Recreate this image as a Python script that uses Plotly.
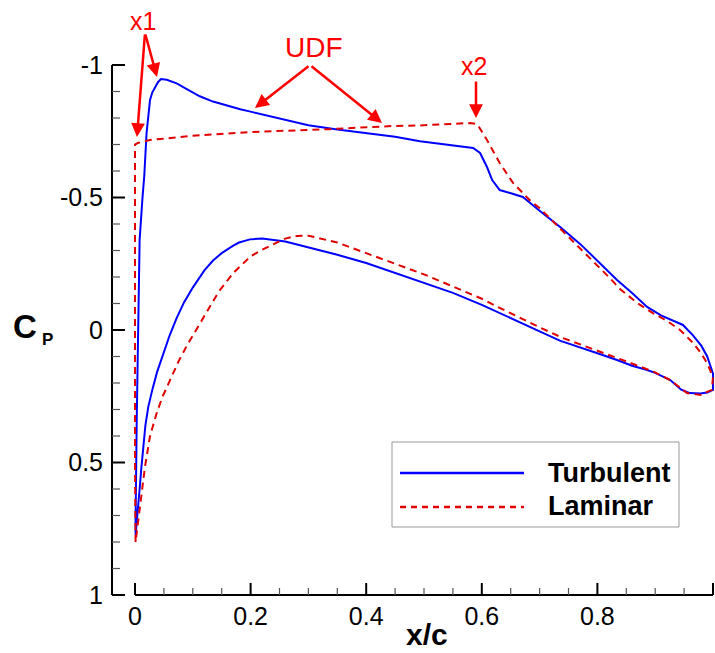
import plotly.graph_objects as go

# ---------------- data ----------------
turb_x = [0.001, 0.001, 0.003, 0.005, 0.008, 0.013, 0.016, 0.020, 0.026, 0.030, 0.035, 0.040,
          0.045, 0.055, 0.072, 0.09, 0.112, 0.135, 0.159, 0.182, 0.2, 0.25, 0.3, 0.35, 0.4,
          0.45, 0.493, 0.55, 0.585, 0.597, 0.609, 0.618, 0.631, 0.649, 0.671, 0.70, 0.735,
          0.77, 0.80, 0.834, 0.86, 0.886, 0.91, 0.93, 0.948, 0.965, 0.98, 0.99, 1.0,
          1.0, 0.99, 0.978, 0.96, 0.945, 0.926, 0.9, 0.886, 0.86, 0.834, 0.80, 0.782, 0.76,
          0.735, 0.70, 0.65, 0.6, 0.55, 0.5, 0.45, 0.4, 0.35, 0.3, 0.26, 0.22, 0.199, 0.18,
          0.17, 0.15, 0.135, 0.12, 0.1, 0.085, 0.072, 0.06, 0.05, 0.038, 0.030, 0.023, 0.018,
          0.014, 0.011, 0.008, 0.005, 0.002, 0.001]
turb_cp = [0.773, 0.717, 0.34, 0.0, -0.34, -0.5, -0.58, -0.743, -0.868, -0.897, -0.917, -0.936,
           -0.947, -0.944, -0.931, -0.91, -0.882, -0.862, -0.846, -0.833, -0.824, -0.798,
           -0.773, -0.757, -0.743, -0.729, -0.712, -0.697, -0.687, -0.668, -0.615, -0.566,
           -0.528, -0.517, -0.502, -0.45, -0.39, -0.325, -0.262, -0.189, -0.14, -0.087, -0.055,
           -0.035, -0.019, 0.019, 0.06, 0.10, 0.165,
           0.226, 0.236, 0.240, 0.238, 0.225, 0.189, 0.162, 0.151, 0.135, 0.113, 0.088, 0.075,
           0.06, 0.04, 0.005, -0.045, -0.095, -0.14, -0.178, -0.216, -0.253, -0.284, -0.313,
           -0.334, -0.345, -0.342, -0.33, -0.318, -0.29, -0.262, -0.225, -0.16, -0.105, -0.045,
           0.02, 0.08, 0.16, 0.225, 0.29, 0.36, 0.44, 0.52, 0.60, 0.68, 0.75, 0.773]

lam_x = [0.001, 0.0, 0.0, 0.005, 0.026, 0.1, 0.199, 0.337, 0.446, 0.493, 0.58, 0.592,
         0.609, 0.631, 0.654, 0.666, 0.683, 0.70, 0.735, 0.77, 0.80, 0.822, 0.839, 0.87,
         0.896, 0.92, 0.943, 0.966, 0.98, 0.99, 1.0,
         0.998, 0.978, 0.955, 0.926, 0.9, 0.874, 0.84, 0.793, 0.74, 0.70, 0.65, 0.625, 0.6,
         0.55, 0.5, 0.45, 0.4, 0.35, 0.3, 0.28, 0.26, 0.24, 0.22, 0.2, 0.17, 0.145, 0.124,
         0.105, 0.09, 0.075, 0.061, 0.048, 0.038, 0.026, 0.017, 0.009, 0.003, 0.001]
lam_cp = [0.80, 0.5, -0.70, -0.706, -0.717, -0.733, -0.747, -0.758, -0.77, -0.772, -0.781,
          -0.777, -0.717, -0.63, -0.555, -0.528, -0.49, -0.46, -0.385, -0.31, -0.245, -0.195,
          -0.155, -0.10, -0.064, -0.035, 0.0, 0.05, 0.09, 0.126, 0.177,
          0.226, 0.245, 0.238, 0.189, 0.16, 0.138, 0.11, 0.072, 0.03, -0.01, -0.062, -0.09,
          -0.118, -0.165, -0.21, -0.25, -0.29, -0.33, -0.356, -0.355, -0.345, -0.325, -0.303,
          -0.278, -0.215, -0.145, -0.068, 0.0, 0.058, 0.12, 0.185, 0.25, 0.31, 0.40, 0.52,
          0.65, 0.755, 0.80]

series_names = ["Turbulent", "Laminar"]
x_tickvals = [0, 0.2, 0.4, 0.6, 0.8, 1]
x_ticktext = ["0", "0.2", "0.4", "0.6", "0.8", "1"]
x_minor = [0.05, 0.1, 0.15, 0.25, 0.3, 0.35, 0.45, 0.5, 0.55, 0.65, 0.7, 0.75, 0.85, 0.9, 0.95]
y_tickvals = [-1, -0.5, 0, 0.5, 1]
y_ticktext = ["-1", "-0.5", "0", "0.5", "1"]
y_minor = [-0.9, -0.8, -0.7, -0.6, -0.4, -0.3, -0.2, -0.1, 0.1, 0.2, 0.3, 0.4,
           0.6, 0.7, 0.8, 0.9]

# ---------------- layout helpers ----------------
W, H = 715, 653
L, R, T, B = 112, 0, 0, 58
PW, PH = W - L - R, H - T - B
X_PER = 578.0   # px per x unit
Y_PER = 265.0   # px per Cp unit

X0 = -23.0 / X_PER
X1 = 1.0 + 2.0 / X_PER
YTOP = -1.0 - 65.0 / Y_PER
YBOT = 1.0


def pxx(px):
    return (px - L) / PW


def pxy(py):
    return (H - B - py) / PH


def xp(v):          # x data value -> paper
    return (v - X0) / (X1 - X0)


def yp(v):          # Cp value -> paper (reversed axis)
    return (v - YBOT) / (YTOP - YBOT)


FONT = "Liberation Sans, Arial, Helvetica, sans-serif"
BLUE = "#0000ff"
DRED = "#e00000"
RED = "#ff0000"
MINOR_COL = "#555555"

fig = go.Figure()
fig.add_trace(go.Scatter(x=turb_x, y=turb_cp, mode="lines", name=series_names[0],
                         line=dict(color=BLUE, width=2), showlegend=False))
fig.add_trace(go.Scatter(x=lam_x, y=lam_cp, mode="lines", name=series_names[1],
                         line=dict(color=DRED, width=2, dash="7px,5px"), showlegend=False))


def pline(xa, ya, xb, yb, color, width, dash=None):
    ln = dict(color=color, width=width)
    if dash:
        ln["dash"] = dash
    return dict(type="line", xref="paper", yref="paper", x0=xa, y0=ya, x1=xb, y1=yb,
                line=ln, layer="above")


shapes = [
    pline(0, yp(-1), 0, yp(1), "black", 2),          # y axis line (detached)
    pline(xp(0), 0, xp(1), 0, "black", 2),           # x axis line
]
for v in y_tickvals:
    shapes.append(pline(0, yp(v), 13.0 / PW, yp(v), "black", 2))
for v in y_minor:
    shapes.append(pline(0, yp(v), 8.0 / PW, yp(v), MINOR_COL, 1.2))
for v in x_tickvals:
    shapes.append(pline(xp(v), 0, xp(v), 12.0 / PH, "black", 2))
for v in x_minor:
    shapes.append(pline(xp(v), 0, xp(v), 7.0 / PH, MINOR_COL, 1.2))

# legend
shapes += [
    dict(type="rect", xref="paper", yref="paper", x0=pxx(392), x1=pxx(679),
         y0=pxy(527), y1=pxy(442), line=dict(color="#999999", width=1),
         fillcolor="white", layer="above"),
    pline(pxx(400), pxy(473), pxx(524), pxy(473), BLUE, 2.5),
    pline(pxx(400), pxy(507), pxx(524), pxy(507), DRED, 2.5, "6px,5px"),
]

annotations = [
    dict(text="<b>Turbulent</b>", x=pxx(546), y=pxy(473), xanchor="left", yanchor="middle",
         font=dict(family=FONT, size=27, color="black")),
    dict(text="<b>Laminar</b>", x=pxx(546), y=pxy(506), xanchor="left", yanchor="middle",
         font=dict(family=FONT, size=27, color="black")),
    dict(text="<b>x/c</b>", x=pxx(427), y=pxy(634), xanchor="center", yanchor="middle",
         font=dict(family=FONT, size=30, color="black")),
    dict(text="<b>C</b>", x=pxx(25), y=pxy(326), xanchor="center", yanchor="middle",
         font=dict(family=FONT, size=33, color="black")),
    dict(text="<b>P</b>", x=pxx(47.5), y=pxy(339), xanchor="center", yanchor="middle",
         font=dict(family=FONT, size=17, color="black")),
    dict(text="x1", x=pxx(142.5), y=pxy(21), xanchor="center", yanchor="middle",
         font=dict(family=FONT, size=25, color=RED)),
    dict(text="UDF", x=pxx(314), y=pxy(47), xanchor="center", yanchor="middle",
         font=dict(family=FONT, size=28, color=RED)),
    dict(text="x2", x=pxx(474), y=pxy(66), xanchor="center", yanchor="middle",
         font=dict(family=FONT, size=25, color=RED)),
]

arrows = [((145, 33), (137, 137)), ((145, 33), (157, 77)),
          ((310, 65), (255, 108)), ((310, 65), (382, 123)),
          ((476, 80), (476, 118))]
for (tx, ty), (hx, hy) in arrows:
    annotations.append(dict(text="", x=pxx(hx), y=pxy(hy), ax=tx - hx, ay=ty - hy,
                            axref="pixel", ayref="pixel", showarrow=True, arrowhead=2,
                            arrowsize=1.1, arrowwidth=2.5, arrowcolor=RED, standoff=0))

for a in annotations:
    a.setdefault("xref", "paper")
    a.setdefault("yref", "paper")
    a.setdefault("showarrow", False)

fig.update_layout(
    width=W, height=H,
    margin=dict(l=L, r=R, t=T, b=B, pad=0),
    paper_bgcolor="white", plot_bgcolor="white",
    font=dict(family=FONT, size=25, color="black"),
    shapes=shapes, annotations=annotations, showlegend=False,
    xaxis=dict(range=[X0, X1], autorange=False, showgrid=False, zeroline=False,
               showline=False, tickmode="array", tickvals=x_tickvals, ticktext=x_ticktext,
               ticks="", tickfont=dict(family=FONT, size=25, color="black"),
               ticklabelstandoff=4, automargin=False),
    yaxis=dict(range=[YBOT, YTOP], autorange=False, showgrid=False, zeroline=False,
               showline=False, tickmode="array", tickvals=y_tickvals, ticktext=y_ticktext,
               ticks="", tickfont=dict(family=FONT, size=25, color="black"),
               ticklabelstandoff=8, automargin=False),
)

fig.write_html("out.html")
